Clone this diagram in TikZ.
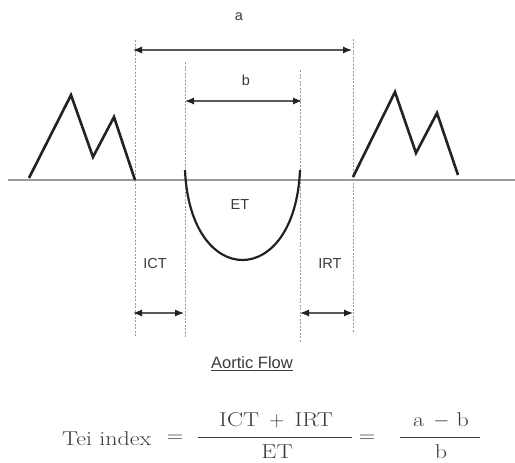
\documentclass[tikz,border=0pt]{standalone}
\usepackage{fontspec}
\newfontfamily\lblfont{Liberation Sans}
\newfontfamily\frmfont{Latin Modern Roman}[FakeStretch=1.2]
\usetikzlibrary{arrows.meta}
\definecolor{ink}{HTML}{222222}
\definecolor{txt}{HTML}{3A3A3A}
\definecolor{guide}{HTML}{9A9A9A}
\begin{document}
\begin{tikzpicture}[x=1pt,y=-1pt,
  wave/.style={line width=2.6pt,ink,line join=miter,line cap=butt},
  guideline/.style={guide,line width=0.7pt,dash pattern=on 2pt off 1.5pt},
  baseln/.style={guide,line width=1.2pt},
  dim/.style={gray!70!black,line width=1.2pt,{Latex[length=9pt,width=7pt,color=ink]}-{Latex[length=9pt,width=7pt,color=ink]}},
  lbl/.style={font=\lblfont\fontsize{14.5}{16}\selectfont,text=txt,inner sep=0pt},
  frm/.style={font=\frmfont\fontsize{20}{24}\selectfont,text=txt,inner sep=0pt},
  eqs/.style={font=\fontsize{21}{24}\selectfont,text=txt,inner sep=0pt,xscale=1.1},
  bar/.style={txt,line width=1pt}]
\useasboundingbox (0,0) rectangle (515,463);
% baseline
\coordinate (bl0) at (8,180);
\coordinate (bl1) at (515,180);
\draw[baseln] (bl0) -- (bl1);
% guides
\coordinate (g1t) at (135,40);  \coordinate (g1b) at (135,337);
\coordinate (g2t) at (185,62);  \coordinate (g2b) at (185,337);
\coordinate (g3t) at (300,70);  \coordinate (g3b) at (300,343);
\coordinate (g4t) at (353,39);  \coordinate (g4b) at (353,333);
\draw[guideline] (g1t) -- (g1b);
\draw[guideline] (g2t) -- (g2b);
\draw[guideline] (g3t) -- (g3b);
\draw[guideline] (g4t) -- (g4b);
% left complex
\draw[wave] (29,178) -- (71,95) -- (93,157) -- (114,117) -- (135,180);
% right complex
\draw[wave] (353,177) -- (395,92) -- (416,153) -- (437,113) -- (458,175);
% ET curve
\draw[ink,line width=2.2pt] (185,170) .. controls (190,290) and (295,290) .. (300,170);
% dimension arrows
\coordinate (a0) at (133,50); \coordinate (a1) at (352,50);
\draw[dim] (a0) -- (a1);
\coordinate (b0) at (185,101); \coordinate (b1) at (302,101);
\draw[dim] (b0) -- (b1);
\coordinate (c0) at (133,313); \coordinate (c1) at (184,313);
\draw[dim] (c0) -- (c1);
\coordinate (d0) at (300,313); \coordinate (d1) at (353,313);
\draw[dim] (d0) -- (d1);
% labels
\node[lbl] (la) at (239,17) {a};
\node[lbl] (lb) at (246,80) {b};
\node[lbl] (let) at (240,205) {ET};
\node[lbl] (lict) at (155,264) {ICT};
\node[lbl] (lirt) at (330,264) {IRT};
\node[lbl,font=\lblfont\fontsize{16.5}{18}\selectfont] (af) at (252,364) {\underline{Aortic Flow}};
% formula
\node[frm,anchor=base west] (tei) at (62,445) {Tei index};
\node[eqs] (eq1) at (175,439) {$=$};
\node[frm] (num1) at (276,420) {ICT\hspace{3pt} $+$\hspace{3pt} IRT};
\node[frm] (den1) at (277,452) {ET};
\draw[bar] (198,437) -- (352,437);
\node[eqs] (eq2) at (367,439) {$=$};
\node[frm] (num2) at (441,420) {a\hspace{2pt} $-$ b};
\node[frm] (den2) at (441,452) {b};
\draw[bar] (400,437) -- (480,437);
\end{tikzpicture}
\end{document}
